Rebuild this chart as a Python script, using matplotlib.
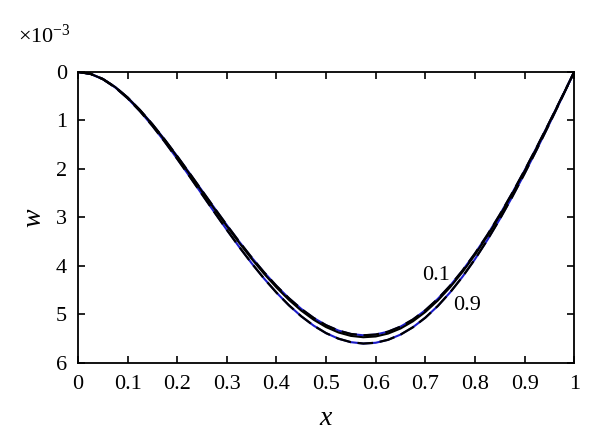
import numpy as np
import matplotlib
matplotlib.use("Agg")
from matplotlib import pyplot as plt

plt.rcParams['font.family'] = ['Liberation Serif', 'DejaVu Serif']
plt.rcParams['mathtext.fontset'] = 'custom'
plt.rcParams['mathtext.rm'] = 'Liberation Serif'
plt.rcParams['mathtext.it'] = 'Liberation Serif:italic'

# deflection (units of 1e-3)
x = [i / 40 for i in range(41)]
w_01 = [0, 0.0375, 0.1439, 0.3097, 0.5264, 0.7853, 1.0786, 1.3985, 1.7378, 2.0897,
        2.4477, 2.8057, 3.1581, 3.4996, 3.8252, 4.1305, 4.4113, 4.6640, 4.8852, 5.0720,
        5.2218, 5.3324, 5.4022, 5.4297, 5.4139, 5.3543, 5.2507, 5.1033, 4.9126, 4.6797,
        4.4059, 4.0929, 3.7430, 3.3586, 2.9427, 2.4987, 2.0302, 1.5414, 1.0368, 0.5212, 0]
w_mid = [0, 0.0378, 0.1450, 0.3120, 0.5303, 0.7911, 1.0865, 1.4088, 1.7506, 2.1051,
         2.4657, 2.8264, 3.1814, 3.5254, 3.8534, 4.1609, 4.4438, 4.6984, 4.9212, 5.1094,
         5.2603, 5.3717, 5.4420, 5.4697, 5.4538, 5.3938, 5.2894, 5.1409, 4.9488, 4.7142,
         4.4384, 4.1231, 3.7706, 3.3834, 2.9644, 2.5171, 2.0452, 1.5528, 1.0444, 0.5250, 0]
w_09 = [0, 0.0387, 0.1484, 0.3194, 0.5429, 0.8099, 1.1124, 1.4423, 1.7922, 2.1551,
        2.5243, 2.8935, 3.2570, 3.6092, 3.9450, 4.2598, 4.5494, 4.8100, 5.0382, 5.2308,
        5.3853, 5.4994, 5.5713, 5.5997, 5.5834, 5.5219, 5.4151, 5.2631, 5.0664, 4.8262,
        4.5438, 4.2210, 3.8602, 3.4638, 3.0348, 2.5769, 2.0938, 1.5897, 1.0693, 0.5375, 0]

fig = plt.figure(figsize=(6, 4.47), dpi=100)
ax = fig.add_axes([0.13, 0.188, 0.827, 0.651])

blue = '#1a1ac8'
for w in (w_01, w_09):
    ax.plot(x, w, color=blue, lw=1.5)
    ax.plot(x, w, color='black', lw=1.6, ls=(0, (7, 3)))
ax.plot(x, w_mid, color='black', lw=1.5)

ax.text(0.694, 4.2, '0.1', fontsize=16, va='center')
ax.text(0.756, 4.82, '0.9', fontsize=16, va='center')

ax.set_xlim(0, 1)
ax.set_ylim(6, 0)
ax.set_xticks(np.arange(0, 1.01, 0.1))
ax.set_xticklabels(['0', '0.1', '0.2', '0.3', '0.4', '0.5', '0.6', '0.7', '0.8', '0.9', '1'])
ax.set_yticks(range(0, 7))
ax.tick_params(direction='in', top=True, right=True, labelsize=16, length=5, width=1.2)
ax.tick_params(axis='x', pad=9)
ax.tick_params(axis='y', pad=8)
for s in ax.spines.values():
    s.set_linewidth(1.3)

ax.set_xlabel('$x$', fontsize=20, labelpad=8)
ax.set_ylabel('$w$', fontsize=20, labelpad=6)
fig.text(0.03, 0.905, r'$\times10^{-3}$', fontsize=16, va='baseline')

fig.savefig('out.png', dpi=100)
